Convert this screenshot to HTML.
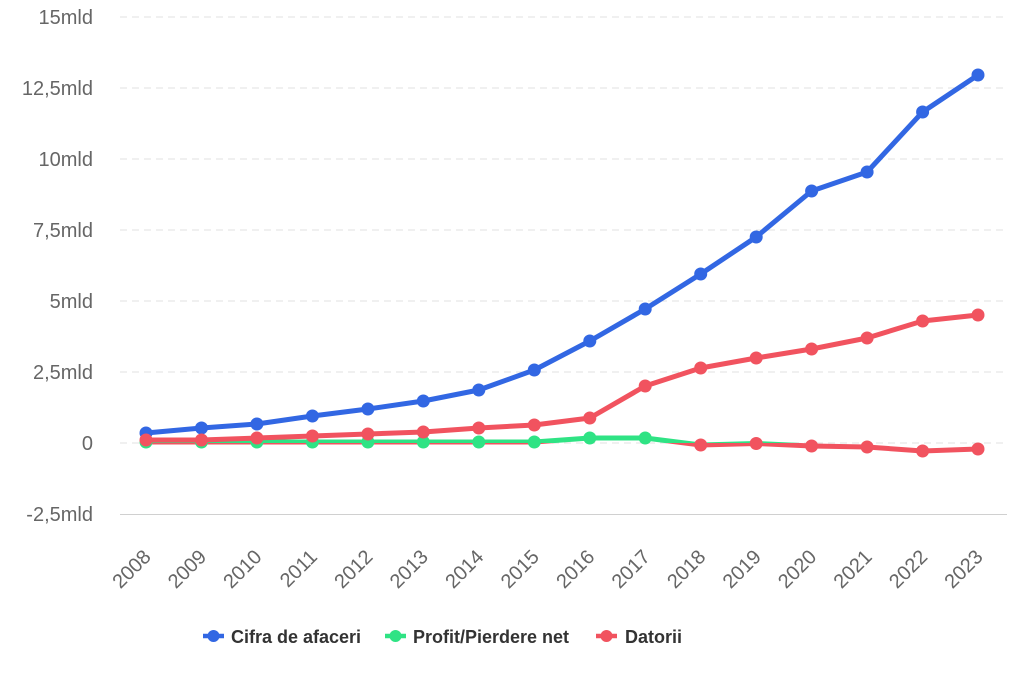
<!DOCTYPE html>
<html>
<head>
<meta charset="utf-8">
<style>
html,body{margin:0;padding:0;background:#fff;}
svg{display:block;}
text{font-family:"Liberation Sans",Arial,sans-serif;}
</style>
</head>
<body>
<svg width="1024" height="683" viewBox="0 0 1024 683" xmlns="http://www.w3.org/2000/svg">
<rect width="1024" height="683" fill="#fff"/>
<defs>
<clipPath id="above"><rect x="0" y="0" width="1024" height="443"/></clipPath>
<clipPath id="below"><rect x="0" y="443" width="1024" height="240"/></clipPath>
</defs>
<!-- grid -->
<g stroke="#e2e2e2" stroke-width="1" stroke-dasharray="7,5">
<line x1="120" y1="17" x2="1007" y2="17"/>
<line x1="120" y1="88" x2="1007" y2="88"/>
<line x1="120" y1="159" x2="1007" y2="159"/>
<line x1="120" y1="230" x2="1007" y2="230"/>
<line x1="120" y1="301" x2="1007" y2="301"/>
<line x1="120" y1="372" x2="1007" y2="372"/>
<line x1="120" y1="443" x2="1007" y2="443"/>
</g>
<line x1="120" y1="514.5" x2="1007" y2="514.5" stroke="#d0d0d0" stroke-width="1"/>
<!-- y labels -->
<g fill="#666" font-size="20" text-anchor="end">
<text x="93" y="24">15mld</text>
<text x="93" y="95">12,5mld</text>
<text x="93" y="166">10mld</text>
<text x="93" y="237">7,5mld</text>
<text x="93" y="308">5mld</text>
<text x="93" y="379">2,5mld</text>
<text x="93" y="450">0</text>
<text x="93" y="521">-2,5mld</text>
</g>
<!-- x labels -->
<g fill="#666" font-size="20" text-anchor="end">
<text x="152" y="558" transform="rotate(-45 152 558)">2008</text>
<text x="207.5" y="558" transform="rotate(-45 207.5 558)">2009</text>
<text x="262.9" y="558" transform="rotate(-45 262.9 558)">2010</text>
<text x="318.4" y="558" transform="rotate(-45 318.4 558)">2011</text>
<text x="373.9" y="558" transform="rotate(-45 373.9 558)">2012</text>
<text x="429.3" y="558" transform="rotate(-45 429.3 558)">2013</text>
<text x="484.8" y="558" transform="rotate(-45 484.8 558)">2014</text>
<text x="540.3" y="558" transform="rotate(-45 540.3 558)">2015</text>
<text x="595.8" y="558" transform="rotate(-45 595.8 558)">2016</text>
<text x="651.2" y="558" transform="rotate(-45 651.2 558)">2017</text>
<text x="706.7" y="558" transform="rotate(-45 706.7 558)">2018</text>
<text x="762.2" y="558" transform="rotate(-45 762.2 558)">2019</text>
<text x="817.6" y="558" transform="rotate(-45 817.6 558)">2020</text>
<text x="873.1" y="558" transform="rotate(-45 873.1 558)">2021</text>
<text x="928.6" y="558" transform="rotate(-45 928.6 558)">2022</text>
<text x="984" y="558" transform="rotate(-45 984 558)">2023</text>
</g>
<!-- Cifra de afaceri -->
<g fill="#3267e3" stroke="none">
<polyline fill="none" stroke="#3267e3" stroke-width="5" stroke-linejoin="round" points="146,433 201.5,428 256.9,424 312.4,416 367.9,409 423.3,401 478.8,390 534.3,370 589.8,341 645.2,309 700.7,274 756.2,237 811.6,191 867.1,172 922.6,112 978,75"/>
<circle cx="146" cy="433" r="6.5"/><circle cx="201.5" cy="428" r="6.5"/><circle cx="256.9" cy="424" r="6.5"/><circle cx="312.4" cy="416" r="6.5"/><circle cx="367.9" cy="409" r="6.5"/><circle cx="423.3" cy="401" r="6.5"/><circle cx="478.8" cy="390" r="6.5"/><circle cx="534.3" cy="370" r="6.5"/><circle cx="589.8" cy="341" r="6.5"/><circle cx="645.2" cy="309" r="6.5"/><circle cx="700.7" cy="274" r="6.5"/><circle cx="756.2" cy="237" r="6.5"/><circle cx="811.6" cy="191" r="6.5"/><circle cx="867.1" cy="172" r="6.5"/><circle cx="922.6" cy="112" r="6.5"/><circle cx="978" cy="75" r="6.5"/>
</g>
<!-- Profit/Pierdere net -->
<g>
<polyline clip-path="url(#above)" fill="none" stroke="#2fe384" stroke-width="5" stroke-linejoin="round" points="146,442 201.5,442 256.9,442 312.4,442 367.9,442 423.3,442 478.8,442 534.3,442 589.8,438 645.2,438 700.7,445 756.2,443.5 811.6,446 867.1,447 922.6,451 978,449"/>
<polyline clip-path="url(#below)" fill="none" stroke="#f1535f" stroke-width="5" stroke-linejoin="round" points="146,442 201.5,442 256.9,442 312.4,442 367.9,442 423.3,442 478.8,442 534.3,442 589.8,438 645.2,438 700.7,445 756.2,443.5 811.6,446 867.1,447 922.6,451 978,449"/>
<g fill="#2fe384">
<circle cx="146" cy="442" r="6.5"/><circle cx="201.5" cy="442" r="6.5"/><circle cx="256.9" cy="442" r="6.5"/><circle cx="312.4" cy="442" r="6.5"/><circle cx="367.9" cy="442" r="6.5"/><circle cx="423.3" cy="442" r="6.5"/><circle cx="478.8" cy="442" r="6.5"/><circle cx="534.3" cy="442" r="6.5"/><circle cx="589.8" cy="438" r="6.5"/><circle cx="645.2" cy="438" r="6.5"/>
</g>
<g fill="#f1535f">
<circle cx="700.7" cy="445" r="6.5"/><circle cx="756.2" cy="443.5" r="6.5"/><circle cx="811.6" cy="446" r="6.5"/><circle cx="867.1" cy="447" r="6.5"/><circle cx="922.6" cy="451" r="6.5"/><circle cx="978" cy="449" r="6.5"/>
</g>
</g>
<!-- Datorii -->
<g fill="#f1535f">
<polyline fill="none" stroke="#f1535f" stroke-width="5" stroke-linejoin="round" points="146,440 201.5,440 256.9,438 312.4,436 367.9,434 423.3,432 478.8,428 534.3,425 589.8,418 645.2,386 700.7,368 756.2,358 811.6,349 867.1,338 922.6,321 978,315"/>
<circle cx="146" cy="440" r="6.5"/><circle cx="201.5" cy="440" r="6.5"/><circle cx="256.9" cy="438" r="6.5"/><circle cx="312.4" cy="436" r="6.5"/><circle cx="367.9" cy="434" r="6.5"/><circle cx="423.3" cy="432" r="6.5"/><circle cx="478.8" cy="428" r="6.5"/><circle cx="534.3" cy="425" r="6.5"/><circle cx="589.8" cy="418" r="6.5"/><circle cx="645.2" cy="386" r="6.5"/><circle cx="700.7" cy="368" r="6.5"/><circle cx="756.2" cy="358" r="6.5"/><circle cx="811.6" cy="349" r="6.5"/><circle cx="867.1" cy="338" r="6.5"/><circle cx="922.6" cy="321" r="6.5"/><circle cx="978" cy="315" r="6.5"/>
</g>
<!-- legend -->
<g font-size="18" font-weight="bold" fill="#333">
<line x1="203" y1="636" x2="224" y2="636" stroke="#3267e3" stroke-width="4.5"/>
<circle cx="213.5" cy="636" r="6" fill="#3267e3"/>
<text x="231" y="643">Cifra de afaceri</text>
<line x1="385" y1="636" x2="406" y2="636" stroke="#2fe384" stroke-width="4.5"/>
<circle cx="395.5" cy="636" r="6" fill="#2fe384"/>
<text x="413" y="643">Profit/Pierdere net</text>
<line x1="596" y1="636" x2="617" y2="636" stroke="#f1535f" stroke-width="4.5"/>
<circle cx="606.5" cy="636" r="6" fill="#f1535f"/>
<text x="625" y="643">Datorii</text>
</g>
</svg>
</body>
</html>
